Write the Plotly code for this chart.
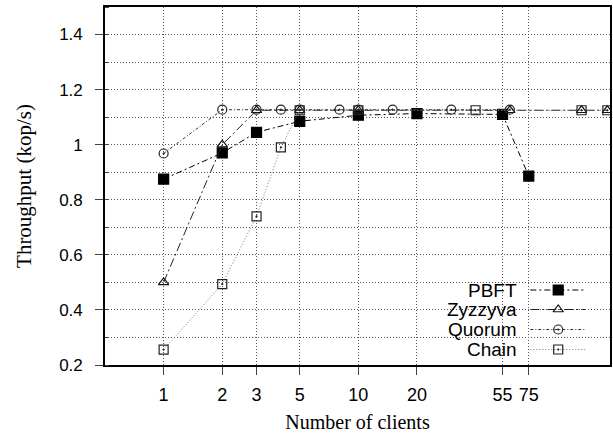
import plotly.graph_objects as go
import math

# ---- data ----
series_names = ["PBFT", "Zyzzyva", "Quorum", "Chain"]

pbft_x = [1, 2, 3, 5, 10, 20, 55, 75]
pbft_y = [0.875, 0.97, 1.045, 1.085, 1.107, 1.113, 1.11, 0.886]

zyz_x = [1, 2, 3, 5, 10, 60, 140, 190]
zyz_y = [0.50, 1.00, 1.125, 1.125, 1.125, 1.125, 1.125, 1.125]

quo_x = [1, 2, 3, 4, 5, 8, 10, 15, 30, 60]
quo_y = [0.968, 1.127, 1.127, 1.127, 1.127, 1.127, 1.127, 1.127, 1.127, 1.127]

chain_x = [1, 2, 3, 4, 5, 10, 40, 140, 190]
chain_y = [0.256, 0.494, 0.74, 0.99, 1.125, 1.125, 1.125, 1.125, 1.125]

x_ticks = [1, 2, 3, 5, 10, 20, 55, 75]
x_ticktext = ["1", "2", "3", "5", "10", "20", "55", "75"]
y_ticks = [0.2, 0.4, 0.6, 0.8, 1.0, 1.2, 1.4]
y_ticktext = ["0.2", "0.4", "0.6", "0.8", "1", "1.2", "1.4"]

# ---- styles ----
styles = {
    "PBFT":    dict(color="#000000", dash="6px,3px,2px,3px", symbol="square", size=10, mline="#000000"),
    "Zyzzyva": dict(color="#222222", dash="9px,3px,2px,3px", symbol="triangle-up-open", size=9, mline="#111111"),
    "Quorum":  dict(color="#333333", dash="3px,2px,1px,2px", symbol="circle-open-dot", size=9, mline="#222222"),
    "Chain":   dict(color="#777777", dash="1px,2px", symbol="square-open-dot", size=9, mline="#222222"),
}
data = {
    "PBFT": (pbft_x, pbft_y),
    "Zyzzyva": (zyz_x, zyz_y),
    "Quorum": (quo_x, quo_y),
    "Chain": (chain_x, chain_y),
}

fig = go.Figure()
for name in series_names:
    st = styles[name]
    xs, ys = data[name]
    fig.add_trace(go.Scatter(
        x=xs, y=ys, mode="lines+markers", name=name, showlegend=False,
        line=dict(color=st["color"], width=1, dash=st["dash"]),
        marker=dict(symbol=st["symbol"], size=st["size"], color=st["mline"],
                    line=dict(color=st["mline"], width=1.2)),
    ))

# ---- custom legend (labels left of samples) ----
L, R, T, B = 105, 612, 7, 365
W, H = R - L, B - T
def px(x):
    return (x - L) / W
def py(y):
    return (B - y) / H

legend_rows = [290, 309.5, 329.5, 349.5]
for name, ry in zip(series_names, legend_rows):
    st = styles[name]
    yy = py(ry)
    fig.add_trace(go.Scatter(
        x=[px(532), px(587)], y=[yy, yy], mode="lines", showlegend=False,
        xaxis="x2", yaxis="y2", hoverinfo="skip",
        line=dict(color=st["color"], width=1, dash=st["dash"]),
    ))
    fig.add_trace(go.Scatter(
        x=[px(560)], y=[yy], mode="markers", showlegend=False,
        xaxis="x2", yaxis="y2", hoverinfo="skip",
        marker=dict(symbol=st["symbol"], size=st["size"], color=st["mline"],
                    line=dict(color=st["mline"], width=1.2)),
    ))
    fig.add_annotation(
        x=px(521), y=yy, xref="paper", yref="paper", text=name,
        showarrow=False, xanchor="right", yanchor="middle",
        font=dict(family="Liberation Sans, Arial, sans-serif", size=19, color="#000"),
    )

fig.add_shape(type="rect", xref="paper", yref="paper",
              x0=px(436), x1=px(599), y0=0, y1=py(276),
              fillcolor="white", line=dict(width=0), layer="between")

tickfont_x = dict(family="Liberation Sans, Arial, sans-serif", size=18, color="#000")
tickfont_y = dict(family="Liberation Sans, Arial, sans-serif", size=17, color="#000")
titlefont = dict(family="Liberation Serif, Times New Roman, serif", size=20, color="#000")

GRID = "#555555"
GDASH = "1px,2px"

fig.update_layout(
    width=613, height=436,
    margin=dict(l=L, r=613 - R, t=T, b=436 - B),
    paper_bgcolor="white", plot_bgcolor="white",
    showlegend=False,
    xaxis=dict(
        type="log", range=[math.log10(0.5), math.log10(196)],
        tickvals=x_ticks, ticktext=x_ticktext, tickfont=tickfont_x,
        ticks="outside", ticklen=8, tickcolor="#444", tickwidth=1,
        showgrid=True, gridcolor=GRID, griddash=GDASH, gridwidth=1,
        showline=True, linecolor="#000", linewidth=1.6, mirror=True,
        zeroline=False, ticklabelstandoff=5,
        title=dict(text="Number of clients", font=titlefont, standoff=11),
    ),
    yaxis=dict(
        range=[0.2, 1.5],
        tickvals=y_ticks, ticktext=y_ticktext, tickfont=tickfont_y,
        ticks="outside", ticklen=8, tickcolor="#444", tickwidth=1,
        showgrid=True, gridcolor=GRID, griddash=GDASH, gridwidth=1,
        minor=dict(dtick=0.1, tick0=0.2, showgrid=True, gridcolor=GRID,
                   griddash=GDASH, gridwidth=1, ticks="inside", ticklen=4, tickcolor="#444"),
        showline=True, linecolor="#000", linewidth=1.6, mirror=True,
        zeroline=False, ticklabelstandoff=9,
        title=dict(text="Throughput (kop/s)", font=dict(titlefont, size=21), standoff=22),
    ),
    xaxis2=dict(overlaying="x", range=[0, 1], visible=False),
    yaxis2=dict(overlaying="y", range=[0, 1], visible=False),
)

fig.write_html("out.html")
